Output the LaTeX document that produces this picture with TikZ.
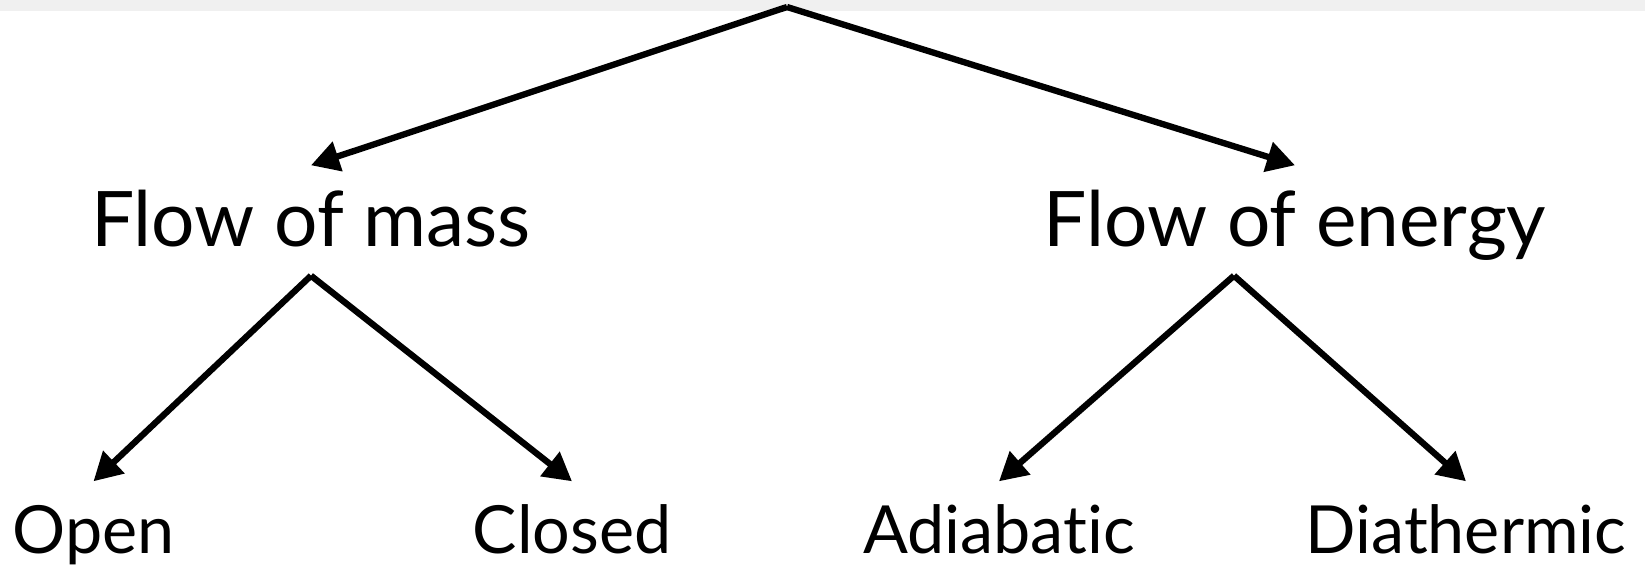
\documentclass[tikz,border=0pt]{standalone}
\usepackage{fontspec}
\setmainfont{Lato}[Ligatures=NoCommon]
\usepackage{tikz}
\usetikzlibrary{arrows.meta}
\usetikzlibrary{positioning}
\definecolor{bandgray}{HTML}{F0F0F0}
\tikzset{
    kind/.style={
        inner xsep=0pt,
        inner ysep=0.29cm,
        text height=0.51cm,
        text depth=0pt,
        font=\fontsize{21.8}{26}\selectfont
    },
    leaf/.style={
        inner xsep=0pt,
        inner ysep=0.24cm,
        text height=0.47cm,
        text depth=0pt,
        font=\fontsize{18.9}{22}\selectfont
    },
    link/.style={
        draw,
        -{Triangle[length=8pt, width=8.5pt]},
        line width=1.8pt
    }
}

\begin{document}
\begin{tikzpicture}
    % Frame and grey band on top
    \useasboundingbox (0,0) rectangle (16.45,5.68);
    \fill[bandgray] (0,5.57) rectangle (16.45,5.68);

    % Root point
    \coordinate (top) at (7.87,5.61);

    % Second level
    \node[kind, anchor=base] (mass) at (3.11,3.22) {Flow of mass};
    \node[kind, anchor=base] (energy) at (12.95,3.22) {Flow of energy};
    \coordinate (efoot) at ([xshift=-0.61cm]energy.south);

    % Third level
    \node[leaf, anchor=base] (open) at (0.935,0.15) {Open};
    \node[leaf, anchor=base] (closed) at (5.72,0.15) {Closed};
    \node[leaf, anchor=base] (adiab) at (9.99,0.15) {Adiabatic};
    \node[leaf, anchor=base] (diath) at (14.66,0.15) {Diathermic};

    % Arrows
    \draw[link] (top) -- (mass.north);
    \draw[link] (top) -- (energy.north);
    \draw[link] (mass.south) -- (open.north);
    \draw[link] (mass.south) -- (closed.north);
    \draw[link] (efoot) -- (adiab.north);
    \draw[link] (efoot) -- (diath.north);
\end{tikzpicture}
\end{document}
